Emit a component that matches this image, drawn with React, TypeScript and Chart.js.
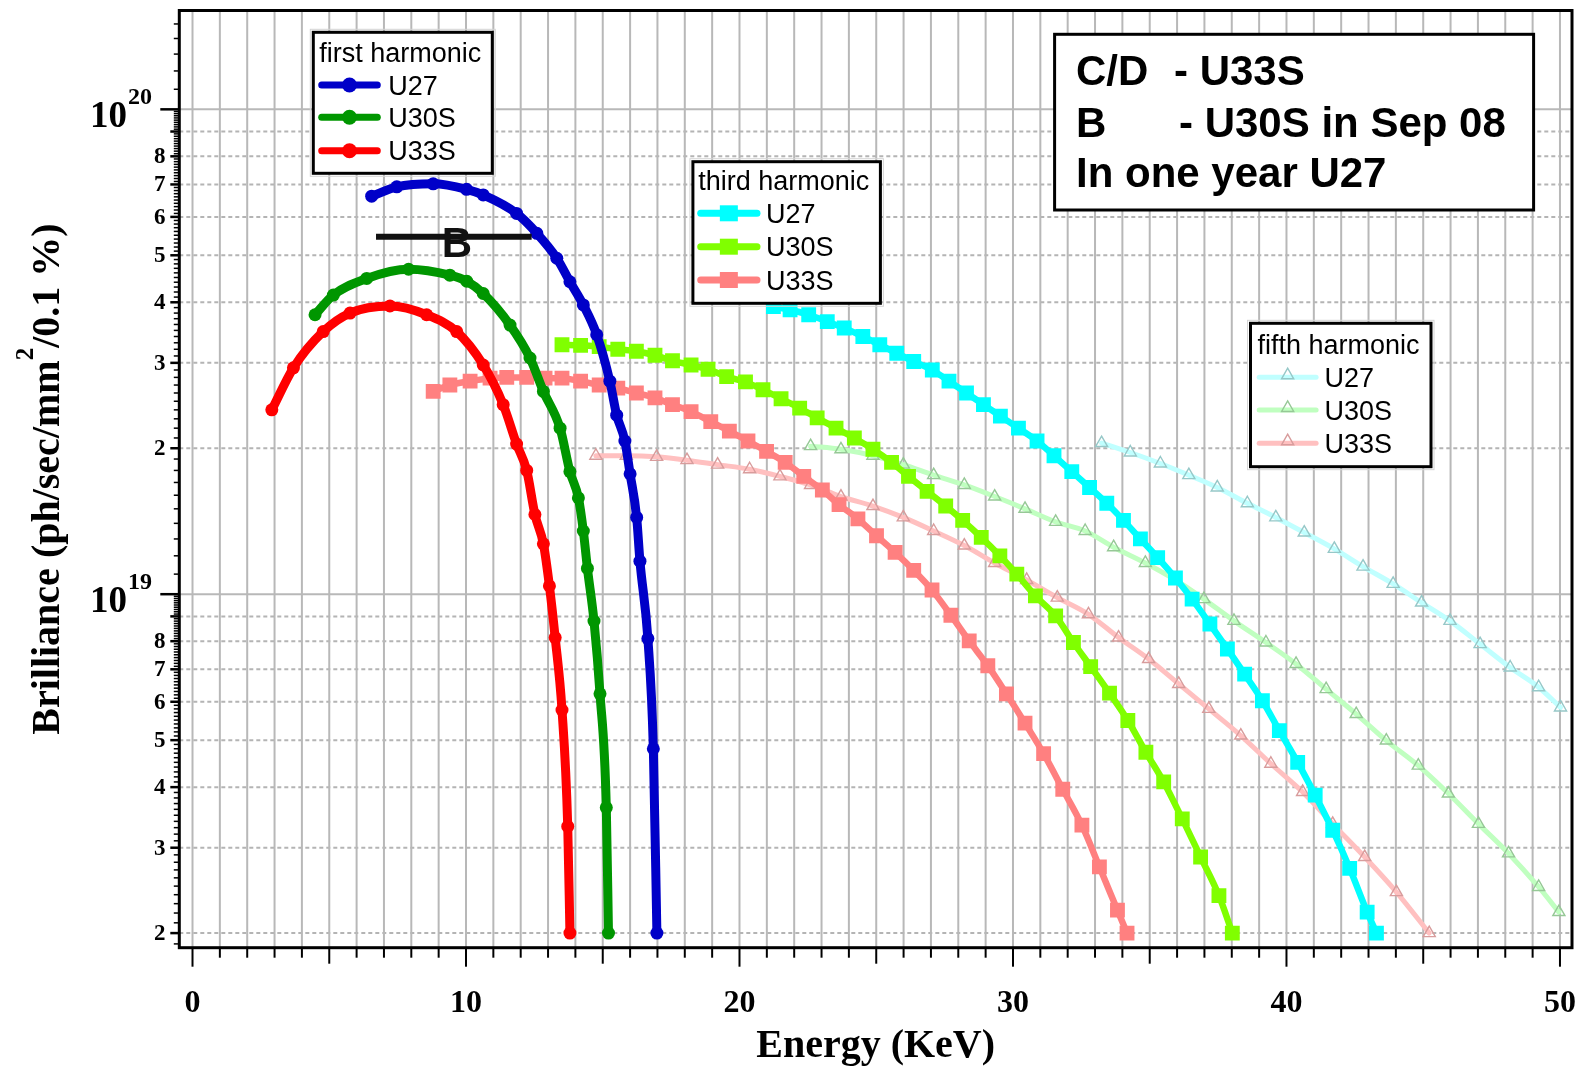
import { useEffect, useRef } from 'react';
import { Chart, registerables } from 'chart.js';

Chart.register(...registerables);

const W = 1585;
const H = 1068;

// ---------------- data (Energy keV, Brilliance ph/sec/mm2/0.1%) ----------------
const seriesNames = ['U27', 'U30S', 'U33S'];

// first harmonic
const firstU27E = [6.55, 7.47, 8.8, 10.02, 10.63, 11.85, 12.59, 13.32, 13.8, 14.29, 14.78, 15.26, 15.51, 15.81, 16.0, 16.24, 16.36, 16.65, 16.85, 16.98];
const firstU27B = [6.62e19, 6.92e19, 7.02e19, 6.84e19, 6.66e19, 6.1e19, 5.55e19, 4.93e19, 4.41e19, 3.95e19, 3.43e19, 2.75e19, 2.34e19, 2.07e19, 1.77e19, 1.44e19, 1.17e19, 8.1e18, 4.8e18, 2.0e18];

const firstU30SE = [4.48, 5.15, 6.37, 7.9, 9.41, 10.03, 10.63, 11.61, 12.34, 12.83, 13.44, 13.8, 14.11, 14.29, 14.44, 14.68, 14.9, 15.13, 15.21];
const firstU30SB = [3.77e19, 4.14e19, 4.48e19, 4.68e19, 4.55e19, 4.42e19, 4.17e19, 3.59e19, 3.07e19, 2.62e19, 2.2e19, 1.79e19, 1.58e19, 1.35e19, 1.13e19, 8.8e18, 6.23e18, 3.63e18, 2.0e18];

const firstU33SE = [2.9, 3.69, 4.78, 5.76, 7.22, 8.56, 9.66, 10.63, 11.36, 11.85, 12.22, 12.52, 12.83, 13.05, 13.26, 13.51, 13.72, 13.8];
const firstU33SB = [2.4e19, 2.93e19, 3.48e19, 3.8e19, 3.93e19, 3.77e19, 3.48e19, 2.97e19, 2.46e19, 2.04e19, 1.8e19, 1.46e19, 1.27e19, 1.04e19, 8.14e18, 5.77e18, 3.32e18, 2.0e18];

// third harmonic
const thirdU27E = [21.24, 21.85, 22.53, 23.21, 23.83, 24.51, 25.13, 25.75, 26.37, 27.05, 27.66, 28.3, 28.92, 29.54, 30.2, 30.88, 31.5, 32.15, 32.8, 33.43, 34.04, 34.66, 35.29, 35.94, 36.55, 37.2, 37.84, 38.47, 39.12, 39.74, 40.41, 41.05, 41.69, 42.31, 42.95, 43.29];
const thirdU27B = [3.92e19, 3.86e19, 3.77e19, 3.65e19, 3.54e19, 3.4e19, 3.27e19, 3.14e19, 3.02e19, 2.9e19, 2.75e19, 2.6e19, 2.46e19, 2.33e19, 2.2e19, 2.07e19, 1.93e19, 1.79e19, 1.66e19, 1.54e19, 1.42e19, 1.3e19, 1.19e19, 1.08e19, 9.77e18, 8.68e18, 7.71e18, 6.84e18, 6.03e18, 5.23e18, 4.5e18, 3.85e18, 3.26e18, 2.72e18, 2.21e18, 2.0e18];

const thirdU30SE = [13.51, 14.19, 14.87, 15.55, 16.23, 16.91, 17.55, 18.23, 18.85, 19.53, 20.22, 20.86, 21.52, 22.2, 22.84, 23.53, 24.2, 24.88, 25.56, 26.18, 26.86, 27.54, 28.16, 28.84, 29.52, 30.14, 30.82, 31.56, 32.21, 32.84, 33.53, 34.2, 34.86, 35.51, 36.19, 36.86, 37.53, 38.02];
const thirdU30SB = [3.27e19, 3.26e19, 3.24e19, 3.2e19, 3.17e19, 3.11e19, 3.03e19, 2.97e19, 2.91e19, 2.81e19, 2.74e19, 2.64e19, 2.53e19, 2.42e19, 2.31e19, 2.2e19, 2.1e19, 1.99e19, 1.87e19, 1.75e19, 1.63e19, 1.52e19, 1.42e19, 1.31e19, 1.2e19, 1.1e19, 9.92e18, 9.02e18, 7.95e18, 7.09e18, 6.25e18, 5.49e18, 4.72e18, 4.1e18, 3.44e18, 2.87e18, 2.39e18, 2.0e18];

const thirdU33SE = [8.8, 9.41, 10.15, 10.88, 11.49, 12.22, 12.89, 13.51, 14.19, 14.87, 15.55, 16.23, 16.91, 17.55, 18.23, 18.95, 19.63, 20.31, 20.99, 21.67, 22.35, 23.03, 23.64, 24.33, 25.01, 25.69, 26.37, 27.04, 27.73, 28.4, 29.08, 29.76, 30.44, 31.12, 31.82, 32.52, 33.16, 33.82, 34.17];
const thirdU33SB = [2.62e19, 2.7e19, 2.75e19, 2.79e19, 2.8e19, 2.8e19, 2.79e19, 2.79e19, 2.75e19, 2.7e19, 2.66e19, 2.6e19, 2.54e19, 2.46e19, 2.38e19, 2.27e19, 2.17e19, 2.07e19, 1.97e19, 1.87e19, 1.75e19, 1.64e19, 1.53e19, 1.43e19, 1.32e19, 1.22e19, 1.12e19, 1.02e19, 9.05e18, 8.01e18, 7.12e18, 6.23e18, 5.42e18, 4.69e18, 3.96e18, 3.34e18, 2.74e18, 2.23e18, 2.0e18];

// fifth harmonic
const fifthU27E = [33.24, 34.29, 35.39, 36.43, 37.47, 38.57, 39.61, 40.65, 41.75, 42.8, 43.9, 44.94, 45.98, 47.08, 48.18, 49.22, 50.02];
const fifthU27B = [2.05e19, 1.96e19, 1.86e19, 1.76e19, 1.66e19, 1.54e19, 1.44e19, 1.34e19, 1.24e19, 1.14e19, 1.05e19, 9.61e18, 8.81e18, 7.89e18, 7.06e18, 6.43e18, 5.84e18];

const fifthU30SE = [22.6, 23.71, 24.88, 25.99, 27.1, 28.22, 29.33, 30.44, 31.56, 32.64, 33.68, 34.84, 35.94, 36.98, 38.08, 39.25, 40.35, 41.45, 42.55, 43.65, 44.82, 45.92, 47.02, 48.12, 49.22, 49.96];
const fifthU30SB = [2.02e19, 1.99e19, 1.93e19, 1.85e19, 1.76e19, 1.68e19, 1.59e19, 1.5e19, 1.41e19, 1.35e19, 1.25e19, 1.16e19, 1.07e19, 9.77e18, 8.81e18, 7.95e18, 7.18e18, 6.37e18, 5.66e18, 4.99e18, 4.43e18, 3.88e18, 3.36e18, 2.92e18, 2.49e18, 2.21e18];

const fifthU33SE = [14.75, 15.86, 16.97, 18.08, 19.2, 20.37, 21.48, 22.6, 23.71, 24.88, 25.99, 27.1, 28.22, 29.33, 30.5, 31.62, 32.76, 33.86, 34.96, 36.06, 37.16, 38.33, 39.43, 40.59, 41.69, 42.86, 44.02, 45.22];
const fifthU33SB = [1.93e19, 1.93e19, 1.92e19, 1.89e19, 1.85e19, 1.81e19, 1.75e19, 1.68e19, 1.59e19, 1.52e19, 1.44e19, 1.35e19, 1.26e19, 1.16e19, 1.07e19, 9.84e18, 9.09e18, 8.14e18, 7.35e18, 6.53e18, 5.8e18, 5.11e18, 4.47e18, 3.91e18, 3.36e18, 2.87e18, 2.43e18, 2.0e18];

// "B" marker line
const bLineE = [6.71, 12.4];
const bLineB = [5.46e19, 5.46e19];
const bLabelE = 9.67;

// axes
const X_MIN = -0.483;
const X_MAX = 50.44;
const Y_MIN = 1.866e18;
const Y_MAX = 1.599e20;
const xTickLabels = [0, 10, 20, 30, 40, 50];
const yTickDigits = [2, 3, 4, 5, 6, 7, 8];
const yDecades = [1e18, 1e19];
const yPowers = [{ v: 1e19, exp: '19' }, { v: 1e20, exp: '20' }];

const xTitle = 'Energy (KeV)';
const yTitleParts = ['Brilliance (ph/sec/mm', '2', '/0.1 %)'];
const noteLines = [
  ['C/D', '- U33S'],
  ['B', '- U30S in Sep 08'],
  ['In one year U27', ''],
];

// ---------------- styles ----------------
const SERIF = '"Liberation Serif", "Times New Roman", serif';
const SANS = '"Liberation Sans", Arial, sans-serif';

const firstColors = ['#0000c8', '#009600', '#ff0000'];
const thirdColors = ['#00ffff', '#80ff00', '#ff8080'];
const fifthColors = ['#c0ffff', '#c0ffc0', '#ffc0c0'];
const fifthEdge = ['#96c8c8', '#96c896', '#d89c9c'];

const toPts = (xs: number[], ys: number[]) => xs.map((x, i) => ({ x, y: ys[i] }));

const firstDs = (label: string, xs: number[], ys: number[], c: string) => ({
  label, data: toPts(xs, ys), borderColor: c, backgroundColor: c,
  borderWidth: 9, pointRadius: 6.5, pointStyle: 'circle', pointBorderWidth: 0,
  pointBackgroundColor: c, cubicInterpolationMode: 'monotone',
  borderCapStyle: 'round', borderJoinStyle: 'round', order: 1,
});
const thirdDs = (label: string, xs: number[], ys: number[], c: string) => ({
  label, data: toPts(xs, ys), borderColor: c, backgroundColor: c,
  borderWidth: 6.5, pointRadius: 10.5, pointStyle: 'rect', pointBorderWidth: 0,
  pointBackgroundColor: c, cubicInterpolationMode: 'monotone',
  borderCapStyle: 'round', borderJoinStyle: 'round', order: 2,
});
const fifthDs = (label: string, xs: number[], ys: number[], c: string, e: string) => ({
  label, data: toPts(xs, ys), borderColor: c, backgroundColor: 'rgba(0,0,0,0)',
  borderWidth: 5, pointRadius: 7, pointStyle: 'triangle', pointBorderWidth: 1.4,
  pointBorderColor: e, pointBackgroundColor: 'rgba(255,255,255,0)',
  cubicInterpolationMode: 'monotone', borderCapStyle: 'round', borderJoinStyle: 'round', order: 3,
});

type Legend = {
  box: [number, number, number, number];
  title: string; titleX: number; titleY: number;
  lineX: [number, number]; textX: number; rows: number[];
  kind: 'circle' | 'rect' | 'tri'; colors: string[]; edge?: string[];
};

const legends: Legend[] = [
  { box: [313.3, 32.3, 492.3, 173.3], title: 'first harmonic', titleX: 319.3, titleY: 61.7, lineX: [321.7, 377.3], textX: 388.3, rows: [85, 117.3, 150.7], kind: 'circle', colors: firstColors },
  { box: [692.9, 161.7, 880.4, 303.3], title: 'third harmonic', titleX: 698.2, titleY: 190, lineX: [700.7, 757], textX: 766, rows: [213.3, 246.7, 280], kind: 'rect', colors: thirdColors },
  { box: [1250.5, 323.3, 1431, 466.7], title: 'fifth harmonic', titleX: 1257.5, titleY: 354, lineX: [1259.2, 1316.1], textX: 1324.5, rows: [377.3, 410, 443.3], kind: 'tri', colors: fifthColors, edge: fifthEdge },
];

const gridPlugin = {
  id: 'customGrid',
  beforeDatasetsDraw(chart: any) {
    const { ctx, chartArea: a, scales } = chart;
    const xs = scales.x, ys = scales.y;
    ctx.save();
    ctx.beginPath();
    ctx.rect(a.left, a.top, a.right - a.left, a.bottom - a.top);
    ctx.clip();
    ctx.strokeStyle = '#b4b4b4';
    ctx.lineWidth = 2;
    ctx.setLineDash([4, 3]);
    for (const d of yDecades) {
      for (let k = 2; k <= 9; k++) {
        const v = k * d;
        if (v < Y_MIN || v > Y_MAX) continue;
        const y = ys.getPixelForValue(v);
        ctx.beginPath(); ctx.moveTo(a.left, y); ctx.lineTo(a.right, y); ctx.stroke();
      }
    }
    ctx.setLineDash([]);
    ctx.strokeStyle = '#b8b8b8';
    ctx.lineWidth = 2;
    for (let e = 0; e <= 50; e++) {
      const x = xs.getPixelForValue(e);
      ctx.beginPath(); ctx.moveTo(x, a.top); ctx.lineTo(x, a.bottom); ctx.stroke();
    }
    for (const p of yPowers) {
      const y = ys.getPixelForValue(p.v);
      ctx.beginPath(); ctx.moveTo(a.left, y); ctx.lineTo(a.right, y); ctx.stroke();
    }
    ctx.restore();
  },
};

function drawMarker(ctx: CanvasRenderingContext2D, kind: string, x: number, y: number, color: string, edge?: string) {
  if (kind === 'circle') {
    ctx.fillStyle = color;
    ctx.beginPath(); ctx.arc(x, y, 7.5, 0, Math.PI * 2); ctx.fill();
  } else if (kind === 'rect') {
    ctx.fillStyle = color;
    ctx.fillRect(x - 9, y - 8, 18, 16);
  } else {
    const r = 7;
    ctx.strokeStyle = edge || color;
    ctx.lineWidth = 1.4;
    ctx.beginPath();
    ctx.moveTo(x, y - r * 1.3);
    ctx.lineTo(x + r * 0.866, y + r * 0.5 - 2);
    ctx.lineTo(x - r * 0.866, y + r * 0.5 - 2);
    ctx.closePath();
    ctx.stroke();
  }
}

const decorPlugin = {
  id: 'decor',
  afterDraw(chart: any) {
    const { ctx, chartArea: a, scales } = chart;
    const xs = scales.x, ys = scales.y;
    ctx.save();

    ctx.fillStyle = '#111';
    ctx.font = `bold 42px ${SANS}`;
    ctx.textAlign = 'center';
    ctx.textBaseline = 'alphabetic';
    ctx.fillText('B', xs.getPixelForValue(bLabelE), ys.getPixelForValue(bLineB[0]) + 20.5);

    for (const lg of legends) {
      const [x0, y0, x1, y1] = lg.box;
      ctx.fillStyle = '#fff';
      ctx.fillRect(x0, y0, x1 - x0, y1 - y0);
      ctx.strokeStyle = '#d4d4d4';
      ctx.lineWidth = 1;
      ctx.strokeRect(x0 - 3, y0 - 3, x1 - x0 + 6, y1 - y0 + 6);
      ctx.strokeStyle = '#000';
      ctx.lineWidth = 3;
      ctx.strokeRect(x0, y0, x1 - x0, y1 - y0);
      ctx.fillStyle = '#000';
      ctx.font = `27px ${SANS}`;
      ctx.textAlign = 'left';
      ctx.fillText(lg.title, lg.titleX, lg.titleY);
      lg.rows.forEach((ry, i) => {
        const c = lg.colors[i];
        ctx.strokeStyle = c;
        ctx.lineCap = 'round';
        ctx.lineWidth = lg.kind === 'tri' ? 5 : 7;
        ctx.beginPath(); ctx.moveTo(lg.lineX[0], ry); ctx.lineTo(lg.lineX[1], ry); ctx.stroke();
        ctx.lineCap = 'butt';
        drawMarker(ctx, lg.kind, (lg.lineX[0] + lg.lineX[1]) / 2, ry, c, lg.edge ? lg.edge[i] : undefined);
        ctx.fillStyle = '#000';
        ctx.font = `27px ${SANS}`;
        ctx.fillText(seriesNames[i], lg.textX, ry + 9.5);
      });
    }

    ctx.fillStyle = '#fff';
    ctx.fillRect(1054.6, 34.3, 479, 175.7);
    ctx.strokeStyle = '#000';
    ctx.lineWidth = 3;
    ctx.strokeRect(1054.6, 34.3, 479, 175.7);
    ctx.fillStyle = '#000';
    ctx.font = `bold 42px ${SANS}`;
    ctx.textAlign = 'left';
    const nb = [85, 136.7, 186.7];
    const secondX = [1174, 1179, 0];
    noteLines.forEach((ln, i) => {
      ctx.fillText(ln[0], 1076, nb[i]);
      if (ln[1]) ctx.fillText(ln[1], secondX[i], nb[i]);
    });

    ctx.strokeStyle = '#000';
    ctx.lineWidth = 3;
    ctx.strokeRect(a.left, a.top, a.right - a.left, a.bottom - a.top);

    ctx.lineWidth = 2;
    for (let e = 0; e <= 50; e++) {
      const x = xs.getPixelForValue(e);
      const len = e % 10 === 0 ? 19 : e % 5 === 0 ? 16 : 10;
      ctx.beginPath(); ctx.moveTo(x, a.bottom); ctx.lineTo(x, a.bottom + len); ctx.stroke();
    }
    ctx.fillStyle = '#000';
    ctx.font = `bold 32px ${SERIF}`;
    ctx.textAlign = 'center';
    for (const t of xTickLabels) {
      ctx.fillText(String(t), xs.getPixelForValue(t), 1012);
    }

    const yt: { v: number; len: number; w: number }[] = [];
    for (let k = 19; k <= 99; k++) yt.push({ v: k * 1e17, len: k % 10 === 0 ? 9 : 5.5, w: k % 10 === 0 ? 2.5 : 1.5 });
    for (let k = 10; k <= 99; k++) yt.push({ v: k * 1e18, len: k === 10 ? 19 : k % 10 === 0 ? 9 : 5.5, w: k % 10 === 0 ? 2.5 : 1.5 });
    for (let k = 10; k <= 15; k++) yt.push({ v: k * 1e19, len: k === 10 ? 19 : 5.5, w: k === 10 ? 2.5 : 1.5 });
    for (const t of yt) {
      if (t.v < Y_MIN || t.v > Y_MAX) continue;
      const y = ys.getPixelForValue(t.v);
      ctx.lineWidth = t.w;
      ctx.beginPath(); ctx.moveTo(a.left, y); ctx.lineTo(a.left - t.len, y); ctx.stroke();
    }
    ctx.font = `bold 23px ${SERIF}`;
    ctx.textAlign = 'right';
    ctx.textBaseline = 'middle';
    for (const d of yDecades) {
      for (const k of yTickDigits) {
        const v = k * d;
        if (v < Y_MIN || v > Y_MAX) continue;
        ctx.fillText(String(k), 165.5, ys.getPixelForValue(v) + 1);
      }
    }
    ctx.textBaseline = 'alphabetic';
    for (const p of yPowers) {
      const y = ys.getPixelForValue(p.v);
      ctx.font = `bold 37px ${SERIF}`;
      ctx.textAlign = 'right';
      ctx.fillText('10', 127, y + 18);
      ctx.font = `bold 24px ${SERIF}`;
      ctx.textAlign = 'left';
      ctx.fillText(p.exp, 128, y - 5);
    }

    ctx.font = `bold 40px ${SERIF}`;
    ctx.textAlign = 'center';
    ctx.fillText(xTitle, (a.left + a.right) / 2, 1057);

    ctx.save();
    ctx.translate(59, (a.top + a.bottom) / 2);
    ctx.rotate(-Math.PI / 2);
    ctx.textAlign = 'left';
    const big = `bold 40px ${SERIF}`;
    const small = `bold 25px ${SERIF}`;
    ctx.font = big;
    const w1 = ctx.measureText(yTitleParts[0]).width;
    const w3 = ctx.measureText(yTitleParts[2]).width;
    ctx.font = small;
    const w2 = ctx.measureText(yTitleParts[1]).width;
    let x = -(w1 + w2 + w3) / 2;
    ctx.font = big;
    ctx.fillText(yTitleParts[0], x, 0);
    x += w1;
    ctx.font = small;
    ctx.fillText(yTitleParts[1], x, -26);
    x += w2;
    ctx.font = big;
    ctx.fillText(yTitleParts[2], x, 0);
    ctx.restore();

    ctx.restore();
  },
};

export default function App() {
  const ref = useRef<HTMLCanvasElement>(null);
  useEffect(() => {
    const canvas = ref.current;
    if (!canvas) return;
    const chart = new Chart(canvas, {
      type: 'line',
      data: {
        datasets: [
          { label: 'B', data: toPts(bLineE, bLineB), borderColor: '#111', borderWidth: 6, pointRadius: 0, order: 0 } as any,
          firstDs(seriesNames[0], firstU27E, firstU27B, firstColors[0]),
          firstDs(seriesNames[1], firstU30SE, firstU30SB, firstColors[1]),
          firstDs(seriesNames[2], firstU33SE, firstU33SB, firstColors[2]),
          thirdDs(seriesNames[0], thirdU27E, thirdU27B, thirdColors[0]),
          thirdDs(seriesNames[1], thirdU30SE, thirdU30SB, thirdColors[1]),
          thirdDs(seriesNames[2], thirdU33SE, thirdU33SB, thirdColors[2]),
          fifthDs(seriesNames[0], fifthU27E, fifthU27B, fifthColors[0], fifthEdge[0]),
          fifthDs(seriesNames[1], fifthU30SE, fifthU30SB, fifthColors[1], fifthEdge[1]),
          fifthDs(seriesNames[2], fifthU33SE, fifthU33SB, fifthColors[2], fifthEdge[2]),
        ] as any,
      },
      options: {
        animation: false,
        responsive: false,
        devicePixelRatio: 1,
        events: [],
        layout: { padding: { left: 0, right: 13, top: 8.3, bottom: 0 } },
        plugins: { legend: { display: false }, tooltip: { enabled: false } },
        scales: {
          x: {
            type: 'linear', min: X_MIN, max: X_MAX,
            grid: { display: false }, border: { display: false }, ticks: { display: false },
            afterFit: (s: any) => { s.height = 120.3; },
          },
          y: {
            type: 'logarithmic', min: Y_MIN, max: Y_MAX,
            grid: { display: false }, border: { display: false }, ticks: { display: false },
            afterFit: (s: any) => { s.width = 179.3; },
          },
        },
      } as any,
      plugins: [gridPlugin, decorPlugin],
    });
    return () => chart.destroy();
  }, []);
  return (
    <div style={{ position: 'absolute', left: 0, top: 0, width: W, height: H, background: '#fff' }}>
      <canvas ref={ref} width={W} height={H} style={{ display: 'block', width: W, height: H }} />
    </div>
  );
}
